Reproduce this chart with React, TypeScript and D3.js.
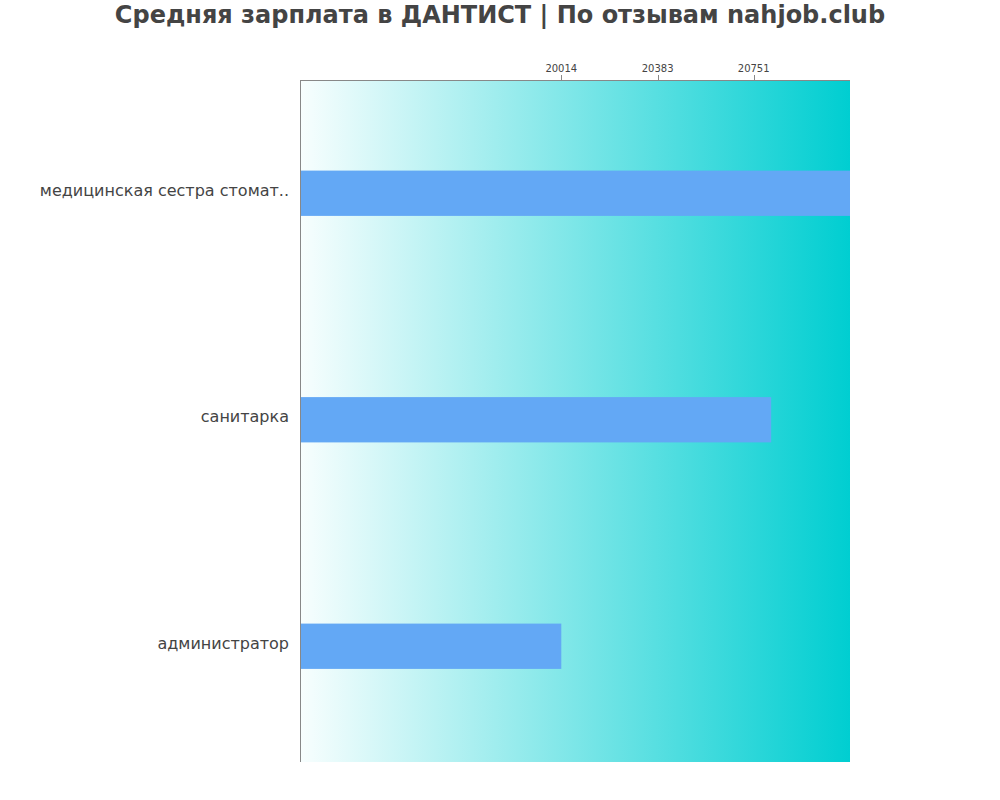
import React from "react";
import * as d3 from "d3";

const categories = ["медицинская сестра стомат..", "санитарка", "администратор"];
const values = [21120, 20818, 20014];
const tickValues = [20014, 20383, 20751];
const domainMin = 19013;
const domainMax = 21120;

export default function App() {
  const width = 1000, height = 800;
  const m = { left: 300, right: 150, top: 80, bottom: 38 };
  const x = d3.scaleLinear().domain([domainMin, domainMax]).range([m.left, width - m.right]);
  const y = d3.scaleBand().domain(categories).range([m.top, 759.5]).paddingInner(0.8).paddingOuter(0.4);
  return (
    <svg width={width} height={height} style={{ position: "absolute", left: 0, top: 0, fontFamily: "DejaVu Sans" }}>
      <defs>
        <linearGradient id="bg" x1="0" x2="1" y1="0" y2="0">
          <stop offset="0%" stopColor="#f8fefe" />
          <stop offset="100%" stopColor="#00ced1" />
        </linearGradient>
      </defs>
      <text x={500} y={23} textAnchor="middle" fontSize={24} fontWeight="bold" fill="#444">
        Средняя зарплата в ДАНТИСТ | По отзывам nahjob.club
      </text>
      <rect x={m.left} y={m.top} width={x.range()[1] - m.left} height={height - m.bottom - m.top} fill="url(#bg)" />
      {categories.map((c, i) => (
        <g key={c}>
          <rect x={m.left} y={y(c)} width={x(values[i]) - m.left} height={y.bandwidth()} fill="#63a8f5" />
          <text x={m.left - 11} y={(y(c) as number) + y.bandwidth() / 2 - 3} dy="0.35em" textAnchor="end" fontSize={16} fill="#444">
            {c}
          </text>
        </g>
      ))}
      <line x1={m.left} x2={x.range()[1]} y1={m.top + 0.5} y2={m.top + 0.5} stroke="#888" />
      <line x1={m.left + 0.5} x2={m.left + 0.5} y1={m.top} y2={height - m.bottom} stroke="#888" />
      {tickValues.map((t) => (
        <g key={t}>
          <line x1={Math.round(x(t)) + 0.5} x2={Math.round(x(t)) + 0.5} y1={m.top} y2={m.top - 5} stroke="#888" />
          <text x={x(t)} y={m.top - 8} textAnchor="middle" fontSize={10} fill="#444">{t}</text>
        </g>
      ))}
    </svg>
  );
}
